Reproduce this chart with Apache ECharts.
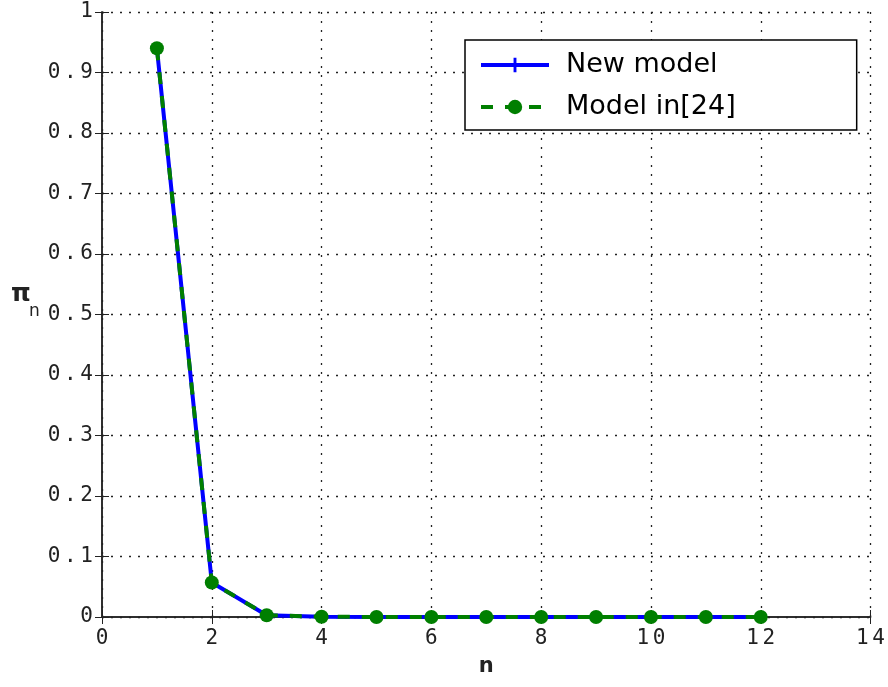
<!DOCTYPE html>
<html><head><meta charset="utf-8">
<script src="https://cdn.jsdelivr.net/npm/echarts@6/dist/echarts.min.js"></script>
<style>html,body{margin:0;padding:0;background:#fff}#c{width:888px;height:687px}</style>
</head><body><div id="c"></div>
<script>
const nValues = [1,2,3,4,5,6,7,8,9,10,11,12];
const newModel = [0.94,0.057,0.003,0.0005,0,0,0,0,0,0,0,0];
const model24 = [0.94,0.057,0.003,0.0005,0,0,0,0,0,0,0,0];
const seriesNames = ['New model','Model in[24]'];

const chart = echarts.init(document.getElementById('c'));
const spaced = s => s.split('').map(c => '{d|' + c + '}').join('{s| }');
const tickFont = {fontFamily:'DejaVu Sans Mono', fontSize:20, color:'#222',
  rich:{d:{fontFamily:'DejaVu Sans Mono', fontSize:21, color:'#222'}, s:{fontFamily:'DejaVu Sans Mono', fontSize:6}}};
const plus = 'path://M4,0H6V4H10V6H6V10H4V6H0V4H4Z';
const gridLine = {show:true,lineStyle:{color:'#222',type:[2,7],width:1.3}};
const boxLine = {show:true,lineStyle:{color:'#222',width:1.5}};
const tick = {show:true,inside:true,length:7,lineStyle:{color:'#222'}};
chart.setOption({
  animation:false,
  grid:{left:102,right:16,top:12,bottom:70,show:false},
  legend:{
    left:465, top:40, orient:'vertical', backgroundColor:'#fff',
    borderColor:'#000', borderWidth:1.5, padding:[10,121,8,14], itemGap:12,
    itemWidth:68, itemHeight:18,
    lineStyle:{width:4},
    textStyle:{fontFamily:'DejaVu Sans', fontSize:27, lineHeight:30, color:'#000', padding:[0,0,0,12]},
    data:seriesNames
  },
  xAxis:[{
    type:'value', min:0, max:14, interval:2,
    name:'n', nameLocation:'middle', nameGap:39,
    nameTextStyle:{fontFamily:'DejaVu Sans', fontSize:21, fontWeight:'bold', color:'#222'},
    axisLine:boxLine, axisTick:tick,
    axisLabel:Object.assign({margin:11, formatter:v=>spaced(String(v))},tickFont),
    splitLine:gridLine
  },{
    type:'value', min:0, max:14, interval:2, position:'top',
    axisLine:boxLine, axisTick:tick, axisLabel:{show:false}, splitLine:{show:false}
  }],
  yAxis:[{
    type:'value', min:0, max:1, interval:0.1,
    axisLine:boxLine, axisTick:tick,
    axisLabel:Object.assign({margin:9, formatter:v=>spaced(String(Math.round(v*10)/10))},tickFont),
    splitLine:gridLine
  },{
    type:'value', min:0, max:1, interval:0.1, position:'right',
    axisLine:boxLine, axisTick:tick, axisLabel:{show:false}, splitLine:{show:false}
  }],
  graphic:[
    {type:'text', left:11, top:282, style:{text:'π', fontFamily:'DejaVu Sans', fontSize:25, fontWeight:'bold', fill:'#222'}},
    {type:'text', left:29, top:303, style:{text:'n', fontFamily:'DejaVu Sans', fontSize:17, fill:'#222'}}
  ],
  series:[{
    name:seriesNames[0], type:'line', data:nValues.map((n,i)=>[n,newModel[i]]),
    symbol:plus, symbolSize:12, itemStyle:{color:'#0000ff'},
    lineStyle:{color:'#0000ff',width:4}, z:2
  },{
    name:seriesNames[1], type:'line', data:nValues.map((n,i)=>[n,model24[i]]),
    symbol:'circle', symbolSize:14, itemStyle:{color:'#007f00'},
    lineStyle:{color:'#007f00',width:4,type:[12,12]}, z:3
  }]
});
</script></body></html>
